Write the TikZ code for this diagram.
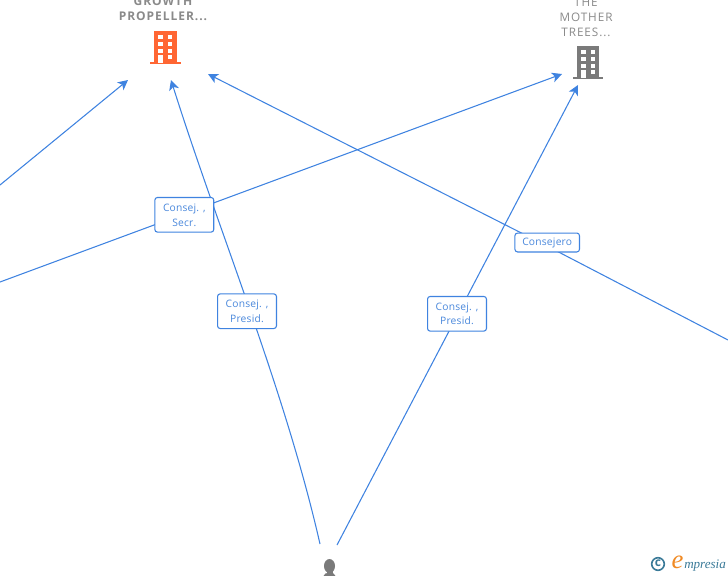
\documentclass[tikz,border=0pt]{standalone}
\usepackage{fontspec}
\setmainfont{Open Sans}
\newfontfamily\logofont{Liberation Serif}
\newfontfamily\capfont[LetterSpace=8]{Open Sans}
\newfontfamily\boxfont[LetterSpace=2]{Open Sans}
\usetikzlibrary{arrows.meta}
\definecolor{edgeblue}{HTML}{3F83E0}
\definecolor{labelblue}{HTML}{4A88DC}
\definecolor{capgrey}{HTML}{8A8A8A}
\definecolor{iconorange}{HTML}{FF6633}
\definecolor{icongrey}{HTML}{7A7A7A}
\definecolor{logoteal}{HTML}{3A7A98}
\definecolor{logoorange}{HTML}{F08A24}
\tikzset{
  px/.style={x=0.75pt,y=-0.75pt},
  link/.style={draw=edgeblue,line width=0.8pt},
  arrowlink/.style={link,-{Stealth[length=7.5pt,width=7.5pt,inset=2pt]}},
  rolebox/.style={draw=edgeblue,fill=white,rounded corners=2pt,line width=0.8pt,
    text=labelblue,font=\boxfont\fontsize{7.7pt}{11.2pt}\selectfont,align=center,inner sep=0pt},
  captext/.style={text=capgrey,font=\capfont\fontsize{9pt}{11.25pt}\selectfont\bfseries,align=center,inner sep=0pt},
}
\newcommand{\buildingicon}[5]{% x left, y top, width, height, colour
  \fill[#5] (#1,#2) rectangle ++(#3,#4);
  \fill[#5] (#1-4,#2+#4) rectangle ++(#3+8,2.2);
  \foreach \dy in {4,11,17.5}{
    \fill[white] (#1+4.3,#2+\dy) rectangle ++(4.3,4);
    \fill[white] (#1+14,#2+\dy) rectangle ++(4.3,4);
  }
  \fill[white] (#1+4.3,#2+24) rectangle ++(4.3,7.5);
  \fill[white] (#1+14,#2+23.5) rectangle ++(4.3,4);
}
\begin{document}
\begin{tikzpicture}[px]
\useasboundingbox (0,0) rectangle (728,575);
\clip (0,0) rectangle (728,575);
% free ends
\coordinate (offA) at (0,185);
\coordinate (offB) at (0,282);
\coordinate (offC) at (728,340);
\coordinate (tipA) at (128,80);
\coordinate (tipB) at (171,80);
\coordinate (tipC) at (208,74);
\coordinate (tipD) at (562,74);
\coordinate (tipE) at (578,85);
\coordinate (footL) at (320,544);
\coordinate (footR) at (337,545);
\coordinate (secrC) at (184.3,214.8);
\coordinate (presLC) at (247,311.2);
\coordinate (presRC) at (457,313.8);
\coordinate (consC) at (547.2,242.5);
\coordinate (consW) at (547,246);
% connectors
\draw[arrowlink] (offA) -- (tipA);
\draw[arrowlink] (offB) -- (tipD);
\draw[link] (offC) -- (consW);
\draw[arrowlink] (consW) -- (tipC);
\draw[arrowlink] (footL) .. controls (285,390) and (220,235) .. (tipB);
\draw[arrowlink] (footR) -- (tipE);
% boxes
\node[rolebox,minimum width=44.2pt,minimum height=26pt,text depth=0pt] (secr) at (secrC) {\raisebox{-0.7pt}{Consej. ,}\\\raisebox{-0.7pt}{Secr.}};
\node[rolebox,minimum width=44.2pt,minimum height=26pt] (presL) at (presLC) {\raisebox{-0.7pt}{Consej. ,}\\\raisebox{-0.7pt}{Presid.}};
\node[rolebox,minimum width=44.2pt,minimum height=26pt] (presR) at (presRC) {\raisebox{-0.7pt}{Consej. ,}\\\raisebox{-0.7pt}{Presid.}};
\node[rolebox,minimum width=48.4pt,minimum height=14.2pt] (cons) at (consC) {\raisebox{-1.2pt}{Consejero}};
% captions
\node[captext] (growth) at (163,8.5) {GROWTH\\PROPELLER...};
\node[captext,font=\capfont\fontsize{8.8pt}{11.25pt}\selectfont] (mother) at (586,17.5) {THE\\MOTHER\\TREES...};
% icons
\buildingicon{154}{31}{23}{31}{iconorange}
\buildingicon{577}{46}{22}{31}{icongrey}
% person
\fill[icongrey] (329.5,566) ellipse (5.5 and 7);
\fill[icongrey] (326.5,570) rectangle (332.5,575);
\fill[icongrey] (323.5,576) .. controls (324,573.5) and (326,573) .. (329.5,573)
   .. controls (333,573) and (335,573.5) .. (335.5,576) -- cycle;
% logo
\draw[logoteal,line width=1.2pt] (658,564) circle (6.3);
\node[text=logoteal,inner sep=0pt,font=\fontsize{9pt}{9pt}\selectfont\bfseries] (copy) at (658,563.5) {c};
\node[text=logoorange,inner sep=0pt,font=\logofont\itshape\fontsize{20pt}{20pt}\selectfont] (elogo) at (677.5,562) {e};
\node[text=logoteal,inner sep=0pt,anchor=base west,font=\logofont\itshape\fontsize{9.8pt}{10pt}\selectfont] (mlogo) at (684,568) {mpresia};
\end{tikzpicture}
\end{document}
